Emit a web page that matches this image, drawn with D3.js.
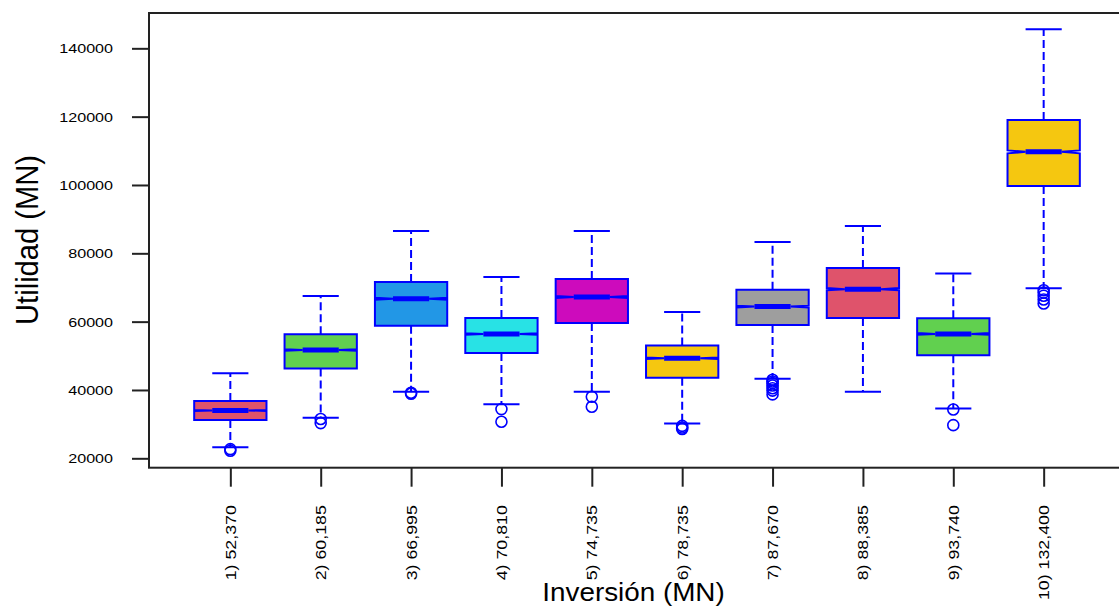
<!DOCTYPE html>
<html lang="es">
<head>
    <meta charset="UTF-8">
    <title>Utilidad vs Inversión</title>
    <script src="https://d3js.org/d3.v7.min.js"></script>
    <style>
        body { margin: 0; background: #fff; }
        text { font-family: "Liberation Sans", Arial, sans-serif; fill: #000; }
    </style>
</head>
<body>
    <div id="chart"></div>

    <script>
        // data
        const labels = ["1) 52,370", "2) 60,185", "3) 66,995", "4) 70,810", "5) 74,735",
                        "6) 78,735", "7) 87,670", "8) 88,385", "9) 93,740", "10) 132,400"];
        const whiskerLo = [23200, 31900, 39500, 35800, 39500, 30200, 43300, 39500, 34600, 69800];
        const q1        = [31200, 46300, 58800, 50800, 59600, 43600, 59000, 61100, 50200, 99700];
        const median    = [34000, 51700, 66700, 56400, 67200, 49300, 64400, 69500, 56400, 109700];
        const q3        = [36800, 56300, 71600, 61100, 72500, 53000, 69300, 75700, 61000, 119000];
        const whiskerHi = [44900, 67500, 86500, 73100, 86500, 62800, 83300, 88000, 74100, 145600];
        const outliers  = [
            [22700, 22200],
            [31500, 30300],
            [39200, 38900],
            [34400, 30700],
            [38000, 35100],
            [29500, 29000, 28600],
            [43000, 42500, 42000, 41300, 40500, 39800, 38700],
            [],
            [34300, 29700],
            [69200, 68500, 67600, 66500, 65300]
        ];
        const fills = ["#DF536B", "#61D04F", "#2297E6", "#28E2E5", "#CD0BBC",
                       "#F5C710", "#9E9E9E", "#DF536B", "#61D04F", "#F5C710"];
        const yTicks = [20000, 40000, 60000, 80000, 100000, 120000, 140000];
        const nObs = 5000;

        const width = 1119;
        const height = 606;
        const plotL = 149, plotT = 13, plotB = 467.7, plotR = 1125;

        const svg = d3.select("#chart").append("svg")
            .attr("width", width)
            .attr("height", height);

        const x = d3.scaleLinear().domain([0.1, 10.9]).range([plotL, plotR]);
        const y = d3.scaleLinear().domain([17250, 150340]).range([plotB, plotT]);

        const halfW = (x(1.4) - x(1));
        const stapleW = halfW / 2;
        const blue = "#0000FF";

        const boxes = labels.map((lab, i) => ({
            i: i, pos: i + 1, lo: whiskerLo[i], q1: q1[i], med: median[i], q3: q3[i], hi: whiskerHi[i],
            out: outliers[i], fill: fills[i],
            notch: 1.58 * (q3[i] - q1[i]) / Math.sqrt(nObs)
        }));

        const g = svg.selectAll(".box")
            .data(boxes)
            .enter()
            .append("g")
            .attr("class", "box");

        // whiskers
        g.append("line")
            .attr("x1", d => x(d.pos)).attr("x2", d => x(d.pos))
            .attr("y1", d => y(d.q3)).attr("y2", d => y(d.hi))
            .attr("stroke", blue).attr("stroke-width", 2).attr("stroke-dasharray", "8,4");
        g.append("line")
            .attr("x1", d => x(d.pos)).attr("x2", d => x(d.pos))
            .attr("y1", d => y(d.q1)).attr("y2", d => y(d.lo))
            .attr("stroke", blue).attr("stroke-width", 2).attr("stroke-dasharray", "8,4");

        // staples
        g.append("line")
            .attr("x1", d => x(d.pos) - stapleW).attr("x2", d => x(d.pos) + stapleW)
            .attr("y1", d => y(d.hi)).attr("y2", d => y(d.hi))
            .attr("stroke", blue).attr("stroke-width", 2);
        g.append("line")
            .attr("x1", d => x(d.pos) - stapleW).attr("x2", d => x(d.pos) + stapleW)
            .attr("y1", d => y(d.lo)).attr("y2", d => y(d.lo))
            .attr("stroke", blue).attr("stroke-width", 2);

        // notched box
        g.append("path")
            .attr("d", d => {
                const c = x(d.pos);
                const pts = [
                    [c - halfW, y(d.q1)], [c - halfW, y(d.med - d.notch)], [c - halfW / 2, y(d.med)],
                    [c - halfW, y(d.med + d.notch)], [c - halfW, y(d.q3)], [c + halfW, y(d.q3)],
                    [c + halfW, y(d.med + d.notch)], [c + halfW / 2, y(d.med)],
                    [c + halfW, y(d.med - d.notch)], [c + halfW, y(d.q1)]
                ];
                return d3.line()(pts) + "Z";
            })
            .attr("fill", d => d.fill)
            .attr("stroke", blue)
            .attr("stroke-width", 2);

        // median
        g.append("line")
            .attr("x1", d => x(d.pos) - halfW / 2).attr("x2", d => x(d.pos) + halfW / 2)
            .attr("y1", d => y(d.med)).attr("y2", d => y(d.med))
            .attr("stroke", blue).attr("stroke-width", 5);

        // outliers
        g.selectAll("circle")
            .data(d => d.out.map(v => ({ pos: d.pos, v: v })))
            .enter()
            .append("circle")
            .attr("cx", d => x(d.pos))
            .attr("cy", d => y(d.v))
            .attr("r", 5.5)
            .attr("fill", "none")
            .attr("stroke", blue)
            .attr("stroke-width", 1.6);

        // frame
        svg.append("rect")
            .attr("x", plotL).attr("y", plotT)
            .attr("width", plotR - plotL).attr("height", plotB - plotT)
            .attr("fill", "none").attr("stroke", "#222").attr("stroke-width", 2);

        // y axis
        const yAxis = svg.append("g")
            .attr("transform", "translate(" + plotL + ",0)")
            .call(d3.axisLeft(y).tickValues(yTicks).tickSize(17).tickFormat(d3.format("d")));
        yAxis.select(".domain").remove();
        yAxis.selectAll(".tick line").attr("stroke", "#222").attr("stroke-width", 2);
        yAxis.selectAll(".tick text")
            .attr("x", null)
            .attr("dy", "0.36em")
            .attr("transform", "translate(-36,0) scale(1.29,1)")
            .attr("text-anchor", "end")
            .style("font-size", "12.5px")
            .style("font-family", "'Liberation Sans', Arial, sans-serif")
            .attr("fill", "#000");

        // x axis
        const xAxis = svg.append("g")
            .attr("transform", "translate(0," + plotB + ")")
            .call(d3.axisBottom(x).tickValues(d3.range(1, 11)).tickSize(19).tickFormat(d => labels[d - 1]));
        xAxis.select(".domain").remove();
        xAxis.selectAll(".tick line").attr("stroke", "#222").attr("stroke-width", 2);
        xAxis.selectAll(".tick text")
            .attr("x", null).attr("y", null).attr("dy", null)
            .attr("transform", "translate(5,37.5) rotate(-90) scale(1.27,1)")
            .attr("text-anchor", "end")
            .style("font-size", "14px")
            .style("font-family", "'Liberation Sans', Arial, sans-serif")
            .attr("fill", "#000");

        // axis titles
        svg.append("text")
            .attr("transform", "translate(38,240) rotate(-90) scale(0.91,1)")
            .attr("text-anchor", "middle")
            .style("font-size", "32px")
            .text("Utilidad (MN)");

        svg.append("text")
            .attr("transform", "translate(633.5,601) scale(1.05,1)")
            .attr("text-anchor", "middle")
            .style("font-size", "26.5px")
            .text("Inversión (MN)");
    </script>
</body>
</html>
